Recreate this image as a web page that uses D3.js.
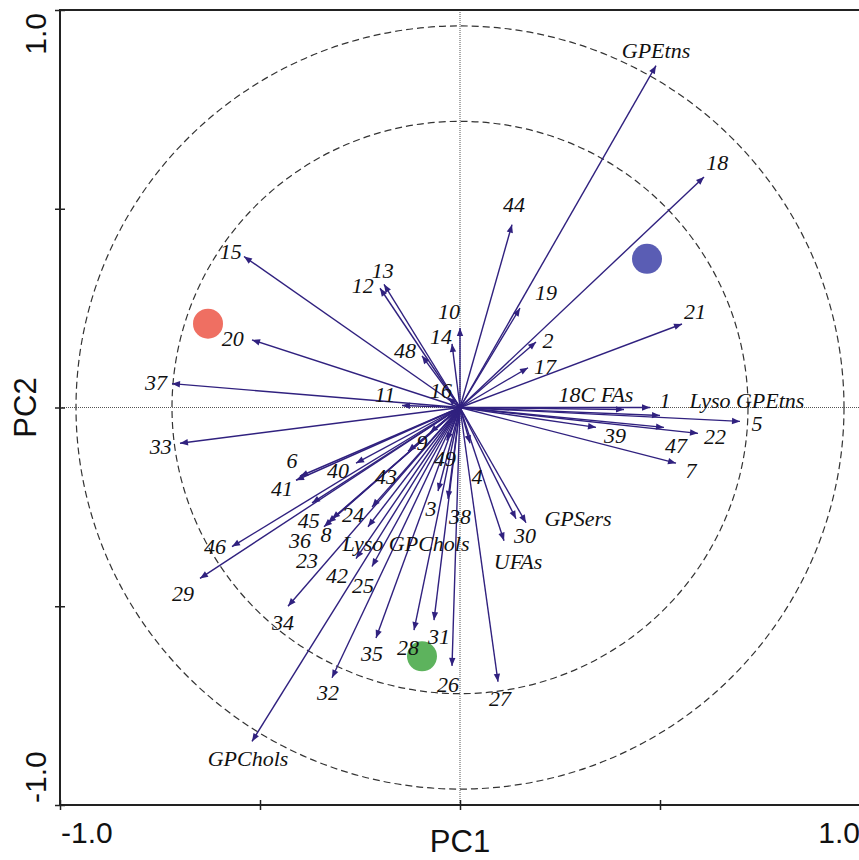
<!DOCTYPE html>
<html>
<head>
<meta charset="utf-8">
<script src="https://cdn.jsdelivr.net/npm/d3@7"></script>
<style>
  html, body { margin: 0; padding: 0; background: #fff; }
  svg { display: block; }
</style>
</head>
<body>
<div id="chart"></div>
<script>
// ===========================
// PCA loading plot (PC1 x PC2)
// Arrows from origin to each variable's loading, dashed reference circles
// ===========================

// ── Data ─────────────────────────────────────────────────────────────────────
const varNames = ['GPEtns', '18', '44', '19', '13', '12', '15', '20', '37', '33',
    '6', '41', '46', '29', '34', 'GPChols', '32', '35', '28', '31', '26', '27',
    '21', '1', '18C FAs', 'Lyso GPEtns', '5', '22', '47', '39', '7',
    '10', '14', '48', '16', '11', '2', '17', '9', '49', '40', '43', '24', '45',
    '8', '36', '23', 'Lyso GPChols', '42', '25', '3', '38', '4', '30', 'GPSers', 'UFAs'];

const pc1 = [0.49, 0.61, 0.13, 0.15, -0.19, -0.20, -0.54, -0.52, -0.72, -0.70,
    -0.40, -0.41, -0.57, -0.65, -0.43, -0.52, -0.32, -0.21, -0.115, -0.065, -0.02, 0.095,
    0.555, 0.475, 0.41, 0.50, 0.70, 0.595, 0.51, 0.34, 0.54,
    0.0, -0.02, -0.095, -0.03, -0.145, 0.19, 0.17, -0.075, -0.033, -0.26, -0.13, -0.22, -0.37,
    -0.33, -0.32, -0.34, -0.23, -0.26, -0.22, -0.055, -0.03, 0.025, 0.14, 0.165, 0.11];

const pc2 = [0.86, 0.58, 0.46, 0.25, 0.31, 0.30, 0.38, 0.17, 0.06, -0.09,
    -0.173, -0.183, -0.35, -0.43, -0.50, -0.84, -0.68, -0.58, -0.56, -0.535, -0.65, -0.69,
    0.21, 0.0, -0.005, -0.02, -0.035, -0.065, -0.05, -0.05, -0.14,
    0.20, 0.16, 0.13, 0.025, 0.005, 0.165, 0.10, -0.063, -0.083, -0.14, -0.11, -0.25, -0.24,
    -0.29, -0.28, -0.30, -0.30, -0.38, -0.40, -0.21, -0.23, -0.09, -0.28, -0.29, -0.335];

// label anchor points, in PC units
const labelPc1 = [0.49, 0.643, 0.135, 0.215, -0.193, -0.243, -0.573, -0.568, -0.76, -0.748,
    -0.42, -0.445, -0.6125, -0.6925, -0.4425, -0.53, -0.33, -0.22, -0.13, -0.0525, -0.03, 0.10,
    0.5875, 0.5125, 0.34, 0.7175, 0.7425, 0.6375, 0.54, 0.3875, 0.5775,
    -0.0275, -0.0475, -0.1375, -0.0475, -0.1875, 0.22, 0.2125, -0.095, -0.0375, -0.305, -0.185, -0.2675, -0.378,
    -0.335, -0.40, -0.3825, -0.135, -0.3075, -0.2425, -0.0725, 0.0, 0.0425, 0.1625, 0.295, 0.145];

const labelPc2 = [0.899, 0.616, 0.51, 0.289, 0.344, 0.307, 0.392, 0.173, 0.063, -0.098,
    -0.133, -0.204, -0.349, -0.467, -0.54, -0.882, -0.716, -0.62, -0.603, -0.575, -0.698, -0.731,
    0.241, 0.018, 0.033, 0.018, -0.04, -0.073, -0.095, -0.07, -0.158,
    0.241, 0.178, 0.143, 0.043, 0.033, 0.168, 0.103, -0.088, -0.128, -0.158, -0.173, -0.269, -0.284,
    -0.319, -0.335, -0.386, -0.342, -0.422, -0.447, -0.254, -0.274, -0.173, -0.322, -0.279, -0.387];

// group (sample) centroids
const groupPc1 = [-0.63, 0.4675, -0.095];
const groupPc2 = [0.211, 0.374, -0.626];
const groupColors = ['#ef6f62', '#5a5db4', '#5db35d'];

// reference circles (radius in PC units)
const circleRadii = [0.96, 0.72];

const axisTicks = [-1, -0.5, 0, 0.5, 1];

// ── Layout ───────────────────────────────────────────────────────────────────
const width = 859, height = 860;
const x = d3.scaleLinear().domain([-1, 1]).range([60, 860]);
const y = d3.scaleLinear().domain([-1, 1]).range([805, 10]);
const arrowColor = '#30217f';

const svg = d3.select('#chart').append('svg')
    .attr('width', width).attr('height', height);

svg.append('defs').append('marker')
    .attr('id', 'head')
    .attr('markerUnits', 'userSpaceOnUse')
    .attr('viewBox', '0 0 10 10')
    .attr('refX', 10).attr('refY', 5)
    .attr('markerWidth', 9).attr('markerHeight', 8)
    .attr('orient', 'auto')
    .append('path')
    .attr('d', 'M0,1 L10,5 L0,9 Z')
    .attr('fill', arrowColor);

// ── Zero lines ───────────────────────────────────────────────────────────────
svg.append('line')
    .attr('x1', x(0)).attr('x2', x(0)).attr('y1', y(1)).attr('y2', y(-1))
    .attr('stroke', '#555').attr('stroke-width', 1).attr('stroke-dasharray', '1,1');
svg.append('line')
    .attr('x1', x(-1)).attr('x2', x(1)).attr('y1', y(0)).attr('y2', y(0))
    .attr('stroke', '#555').attr('stroke-width', 1).attr('stroke-dasharray', '1,1');

// ── Dashed circles ───────────────────────────────────────────────────────────
svg.selectAll('.ref-circle')
    .data(circleRadii)
    .join('ellipse')
    .attr('class', 'ref-circle')
    .attr('cx', x(0)).attr('cy', y(0))
    .attr('rx', d => x(d) - x(0))
    .attr('ry', d => y(0) - y(d))
    .attr('fill', 'none')
    .attr('stroke', '#333').attr('stroke-width', 1.2)
    .attr('stroke-dasharray', '7,4');

// ── Group centroids ──────────────────────────────────────────────────────────
svg.selectAll('.group')
    .data(groupPc1)
    .join('circle')
    .attr('class', 'group')
    .attr('cx', d => x(d))
    .attr('cy', (d, i) => y(groupPc2[i]))
    .attr('r', 15)
    .attr('fill', (d, i) => groupColors[i]);

// ── Loading arrows ───────────────────────────────────────────────────────────
svg.selectAll('.loading')
    .data(varNames)
    .join('line')
    .attr('class', 'loading')
    .attr('x1', x(0)).attr('y1', y(0))
    .attr('x2', (d, i) => x(pc1[i]))
    .attr('y2', (d, i) => y(pc2[i]))
    .attr('stroke', arrowColor).attr('stroke-width', 1.4)
    .attr('marker-end', 'url(#head)');

svg.selectAll('.loading-label')
    .data(varNames)
    .join('text')
    .attr('class', 'loading-label')
    .attr('x', (d, i) => x(labelPc1[i]))
    .attr('y', (d, i) => y(labelPc2[i]))
    .attr('text-anchor', 'middle')
    .attr('dominant-baseline', 'central')
    .style('font-family', '"Liberation Serif", "Times New Roman", serif')
    .style('font-style', 'italic')
    .style('font-size', '22px')
    .style('fill', '#111')
    .text(d => d);

// ── Frame & axes ─────────────────────────────────────────────────────────────
svg.append('rect')
    .attr('x', x(-1)).attr('y', y(1))
    .attr('width', x(1) - x(-1)).attr('height', y(-1) - y(1))
    .attr('fill', 'none').attr('stroke', '#222').attr('stroke-width', 2);

const xAxis = svg.append('g')
    .attr('transform', 'translate(0,' + y(-1) + ')')
    .call(d3.axisBottom(x).tickValues(axisTicks).tickFormat('').tickSize(5));
xAxis.select('.domain').remove();
xAxis.selectAll('.tick line').attr('y1', -5).attr('stroke', '#222').attr('stroke-width', 1.5);

const yAxis = svg.append('g')
    .attr('transform', 'translate(' + x(-1) + ',0)')
    .call(d3.axisLeft(y).tickValues(axisTicks).tickFormat('').tickSize(5));
yAxis.select('.domain').remove();
yAxis.selectAll('.tick line').attr('x1', 5).attr('stroke', '#222').attr('stroke-width', 1.5);

const sans = 'Arial, "Liberation Sans", Helvetica, sans-serif';

svg.append('text')
    .attr('x', x(-1) + 1).attr('y', 843)
    .style('font-family', sans).style('font-size', '30px').style('fill', '#111')
    .text('-1.0');
svg.append('text')
    .attr('x', x(1)).attr('y', 843)
    .attr('text-anchor', 'end')
    .style('font-family', sans).style('font-size', '30px').style('fill', '#111')
    .text('1.0');

svg.append('text')
    .attr('transform', 'translate(46,' + (y(1) + 3) + ') rotate(-90)')
    .attr('text-anchor', 'end')
    .style('font-family', sans).style('font-size', '30px').style('fill', '#111')
    .text('1.0');
svg.append('text')
    .attr('transform', 'translate(46,' + (y(-1) - 2) + ') rotate(-90)')
    .attr('text-anchor', 'start')
    .style('font-family', sans).style('font-size', '30px').style('fill', '#111')
    .text('-1.0');

svg.append('text')
    .attr('x', x(0)).attr('y', 852)
    .attr('text-anchor', 'middle')
    .style('font-family', sans).style('font-size', '31px').style('fill', '#111')
    .text('PC1');
svg.append('text')
    .attr('transform', 'translate(36,' + y(0) + ') rotate(-90)')
    .attr('text-anchor', 'middle')
    .style('font-family', sans).style('font-size', '31px').style('fill', '#111')
    .text('PC2');
</script>
</body>
</html>
